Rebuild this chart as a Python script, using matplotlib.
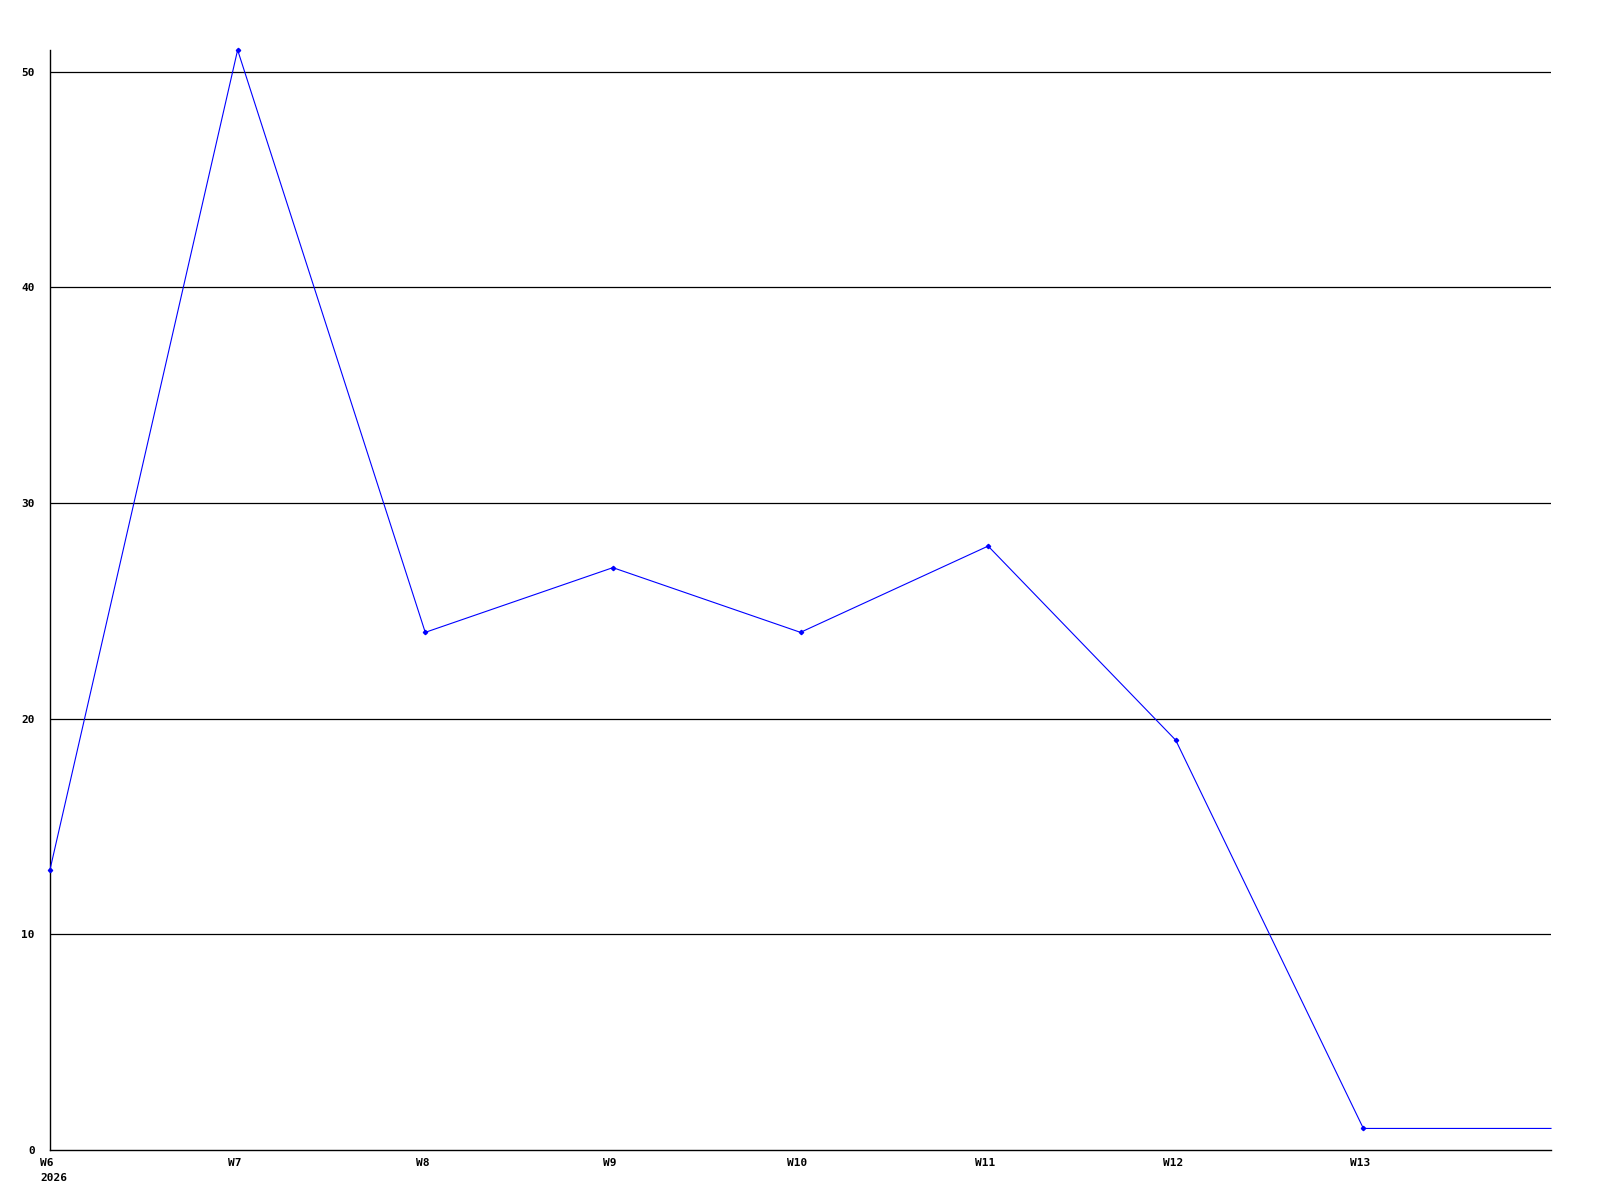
import matplotlib.pyplot as plt

# Weekly counts
weeks = ["W6\n2026", "W7", "W8", "W9", "W10", "W11", "W12", "W13", ""]
counts = [13, 51, 24, 27, 24, 28, 19, 1, 1]
y_ticks = [0, 10, 20, 30, 40, 50]

fig = plt.figure(figsize=(16, 12), dpi=100)
ax = fig.add_axes([50 / 1600, 50 / 1200, 1501 / 1600, 1100 / 1200])

x = list(range(len(counts)))
ax.plot(x, counts, color="#0000ff", linewidth=0.8,
        marker="D", markersize=2.2, markevery=list(range(len(counts) - 1)),
        clip_on=False, zorder=3)

ax.set_xlim(0, 8)
ax.set_ylim(0, 51)

# horizontal grid lines
for v in y_ticks[1:]:
    ax.axhline(v, color="black", linewidth=0.9, zorder=1)

for s in ["top", "right"]:
    ax.spines[s].set_visible(False)
for s in ["left", "bottom"]:
    ax.spines[s].set_linewidth(1.0)

font = dict(family="DejaVu Sans Mono", fontweight="bold", fontsize=8)

ax.set_yticks(y_ticks)
ax.set_yticklabels([str(v) for v in y_ticks], **font)
ax.tick_params(axis="y", length=0, pad=11)

ax.set_xticks(x[:-1])
ax.set_xticklabels([])
ax.tick_params(axis="x", length=0)
for i, lab in enumerate(weeks[:-1]):
    if i == 0:
        ax.annotate(lab, xy=(0, 0), xycoords="data", xytext=(-10, -8),
                    textcoords="offset pixels", ha="left", va="top",
                    linespacing=1.6, **font)
    else:
        ax.annotate(lab, xy=(i, 0), xycoords="data", xytext=(-3, -8),
                    textcoords="offset pixels", ha="center", va="top", **font)

fig.savefig("out.png", dpi=100)
